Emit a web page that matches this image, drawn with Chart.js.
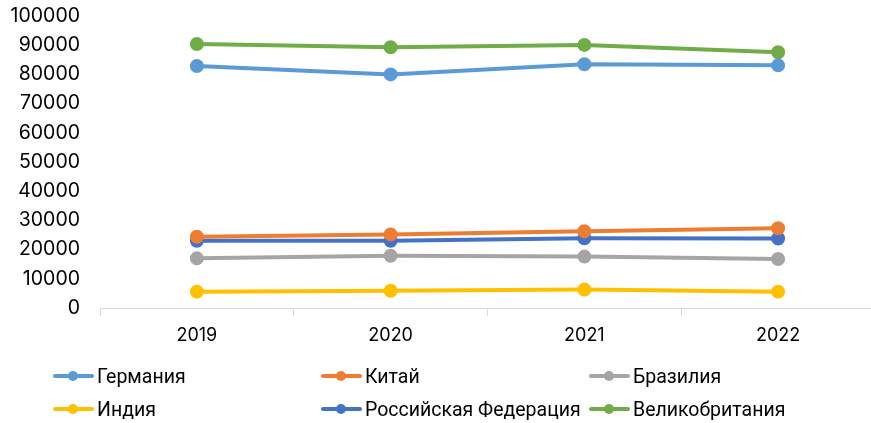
<!DOCTYPE html>
<html>
<head>
<meta charset="utf-8">
<script src="https://cdn.jsdelivr.net/npm/chart.js@4"></script>
<style>
  html, body { margin: 0; padding: 0; background: #fff; overflow: hidden; }
  #wrap { position: relative; width: 884px; height: 423px; }
  #legend { position: absolute; left: 53px; top: 366px; display: grid; grid-template-columns: 268px 268px 268px; row-gap: 13px; font-family: Roboto, sans-serif; font-size: 19.5px; color: #000; }
  .item { display: flex; align-items: center; height: 20px; white-space: nowrap; }
  .mark { position: relative; width: 41px; height: 20px; margin-right: 3px; }
  .mark .ln { position: absolute; left: 0; right: 0; top: 8px; height: 4px; border-radius: 2px; }
  .mark .dot { position: absolute; left: 15px; top: 5px; width: 10px; height: 10px; border-radius: 50%; }
</style>
</head>
<body>
<div id="wrap">
  <canvas id="chart" width="884" height="423"></canvas>
  <div id="legend"></div>
</div>
<script>
const years = ['2019', '2020', '2021', '2022'];
const germany = [82900, 80000, 83500, 83100];
const china = [24400, 25200, 26300, 27300];
const brazil = [17000, 17900, 17600, 16800];
const india = [5600, 5900, 6300, 5600];
const russia = [23000, 23000, 23900, 23800];
const uk = [90400, 89300, 90100, 87600];

const series = [
    { label: 'Германия', data: germany, color: '#5b9bd5' },
    { label: 'Китай', data: china, color: '#ed7d31' },
    { label: 'Бразилия', data: brazil, color: '#a5a5a5' },
    { label: 'Индия', data: india, color: '#ffc000' },
    { label: 'Российская Федерация', data: russia, color: '#4472c4' },
    { label: 'Великобритания', data: uk, color: '#70ad47' }
];

const xFont = { family: 'Inter, sans-serif', size: 18 };
const yFont = { family: 'Inter, sans-serif', size: 19.5 };

const chart = new Chart(document.getElementById('chart'), {
    type: 'line',
    data: {
        labels: years,
        datasets: series.map(s => ({
            label: s.label,
            data: s.data,
            borderColor: s.color,
            backgroundColor: s.color,
            borderWidth: 4,
            pointRadius: 5,
            pointHoverRadius: 5,
            tension: 0
        }))
    },
    options: {
        responsive: false,
        animation: false,
        layout: { padding: { top: 16, right: 0, left: 0, bottom: 0 } },
        plugins: { legend: { display: false }, tooltip: { enabled: false } },
        scales: {
            x: {
                offset: true,
                grid: { display: true, drawOnChartArea: false, offset: true, tickLength: 8, color: '#d9d9d9' },
                border: { color: '#d9d9d9', width: 1 },
                ticks: { color: '#000', font: xFont, padding: 9 },
                afterFit: (scale) => { scale.height = 115; }
            },
            y: {
                min: 0,
                max: 100000,
                grid: { display: false },
                border: { display: false },
                ticks: { stepSize: 10000, color: '#000', font: yFont, padding: 12, callback: (v) => String(v) },
                afterFit: (scale) => {
                    scale.width = 100;
                    scale.paddingTop = 0;
                    scale.paddingBottom = 0;
                }
            }
        }
    }
});

const legend = document.getElementById('legend');
series.forEach(s => {
    const item = document.createElement('div');
    item.className = 'item';
    item.innerHTML = '<span class="mark"><span class="ln" style="background:' + s.color + '"></span><span class="dot" style="background:' + s.color + '"></span></span>' + s.label;
    legend.appendChild(item);
});
</script>
</body>
</html>
